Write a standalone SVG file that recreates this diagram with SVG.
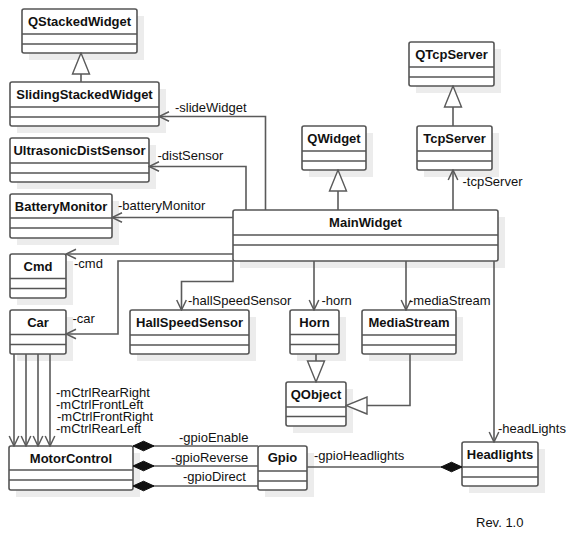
<svg xmlns="http://www.w3.org/2000/svg" width="574" height="548" viewBox="0 0 574 548">
  <style>
    .shadow { fill: #ececec; stroke: none; }
    .box { fill: #ffffff; stroke: #555555; stroke-width: 1.6; }
    .sep { stroke: #555555; stroke-width: 1.6; }
    .title { font-family: "Liberation Sans", Arial, sans-serif; font-size: 13px; font-weight: bold; fill: #111111; text-anchor: middle; }
    .lbl { font-family: "Liberation Sans", Arial, sans-serif; font-size: 13px; fill: #111111; }
    .conn path { fill: none; stroke: #5a5a5a; stroke-width: 1.6; }
    .assoc { marker-end: url(#open); }
    .gen { marker-end: url(#tri); }
    .comp { marker-start: url(#diamond); }
  </style>
  <defs>
    <marker id="open" viewBox="-12 -6 13 12" markerWidth="13" markerHeight="12" refX="0" refY="0" orient="auto" markerUnits="userSpaceOnUse">
      <path d="M-10,-4.8 L0,0 L-10,4.8" fill="none" stroke="#5a5a5a" stroke-width="1.5"/>
    </marker>
    <marker id="tri" viewBox="-22 -10 23 20" markerWidth="23" markerHeight="20" refX="0" refY="0" orient="auto" markerUnits="userSpaceOnUse">
      <path d="M-21,-8.5 L0,0 L-21,8.5 Z" fill="#ffffff" stroke="#5a5a5a" stroke-width="1.4"/>
    </marker>
    <marker id="diamond" viewBox="-1 -6 23 12" markerWidth="23" markerHeight="12" refX="0" refY="0" orient="auto" markerUnits="userSpaceOnUse">
      <path d="M0,0 L10.5,-4.8 L21,0 L10.5,4.8 Z" fill="#111111" stroke="#111111" stroke-width="1"/>
    </marker>
  </defs>

  <rect width="574" height="548" fill="#ffffff"/>

  <!-- classes -->
  <g id="QStackedWidget">
    <rect class="shadow" x="29" y="16" width="115" height="44"/>
    <rect class="box" x="22" y="9" width="115" height="44" rx="2"/>
    <line class="sep" x1="22" y1="34" x2="137" y2="34"/>
    <line class="sep" x1="22" y1="44" x2="137" y2="44"/>
    <text class="title" x="79.5" y="26">QStackedWidget</text>
  </g>
  <g id="SlidingStackedWidget">
    <rect class="shadow" x="17" y="89" width="149" height="44"/>
    <rect class="box" x="10" y="82" width="149" height="44" rx="2"/>
    <line class="sep" x1="10" y1="107" x2="159" y2="107"/>
    <line class="sep" x1="10" y1="117" x2="159" y2="117"/>
    <text class="title" x="84.5" y="98.5">SlidingStackedWidget</text>
  </g>
  <g id="UltrasonicDistSensor">
    <rect class="shadow" x="17" y="145" width="139" height="44"/>
    <rect class="box" x="10" y="138" width="139" height="44" rx="2"/>
    <line class="sep" x1="10" y1="163" x2="149" y2="163"/>
    <line class="sep" x1="10" y1="173" x2="149" y2="173"/>
    <text class="title" x="79.5" y="154.5">UltrasonicDistSensor</text>
  </g>
  <g id="BatteryMonitor">
    <rect class="shadow" x="17" y="201" width="102" height="44"/>
    <rect class="box" x="10" y="194" width="102" height="44" rx="2"/>
    <line class="sep" x1="10" y1="218" x2="112" y2="218"/>
    <line class="sep" x1="10" y1="228" x2="112" y2="228"/>
    <text class="title" x="61" y="210.5">BatteryMonitor</text>
  </g>
  <g id="QWidget">
    <rect class="shadow" x="309" y="133" width="64" height="44"/>
    <rect class="box" x="302" y="126" width="64" height="44" rx="2"/>
    <line class="sep" x1="302" y1="151" x2="366" y2="151"/>
    <line class="sep" x1="302" y1="161" x2="366" y2="161"/>
    <text class="title" x="334" y="142.5">QWidget</text>
  </g>
  <g id="QTcpServer">
    <rect class="shadow" x="416" y="49" width="85" height="44"/>
    <rect class="box" x="409" y="42" width="85" height="44" rx="2"/>
    <line class="sep" x1="409" y1="67" x2="494" y2="67"/>
    <line class="sep" x1="409" y1="77" x2="494" y2="77"/>
    <text class="title" x="451.5" y="58.5">QTcpServer</text>
  </g>
  <g id="TcpServer">
    <rect class="shadow" x="424" y="133" width="75" height="44"/>
    <rect class="box" x="417" y="126" width="75" height="44" rx="2"/>
    <line class="sep" x1="417" y1="151" x2="492" y2="151"/>
    <line class="sep" x1="417" y1="161" x2="492" y2="161"/>
    <text class="title" x="454.5" y="142.5">TcpServer</text>
  </g>
  <g id="MainWidget">
    <rect class="shadow" x="240" y="217" width="265" height="51"/>
    <rect class="box" x="233" y="210" width="265" height="51" rx="2"/>
    <line class="sep" x1="233" y1="235" x2="498" y2="235"/>
    <line class="sep" x1="233" y1="245" x2="498" y2="245"/>
    <text class="title" x="365.5" y="227">MainWidget</text>
  </g>
  <g id="Cmd">
    <rect class="shadow" x="17" y="261" width="56" height="44"/>
    <rect class="box" x="10" y="254" width="56" height="44" rx="2"/>
    <line class="sep" x1="10" y1="278.5" x2="66" y2="278.5"/>
    <line class="sep" x1="10" y1="288.5" x2="66" y2="288.5"/>
    <text class="title" x="38" y="271">Cmd</text>
  </g>
  <g id="Car">
    <rect class="shadow" x="17" y="317" width="56" height="44"/>
    <rect class="box" x="10" y="310" width="56" height="44" rx="2"/>
    <line class="sep" x1="10" y1="334.5" x2="66" y2="334.5"/>
    <line class="sep" x1="10" y1="344.5" x2="66" y2="344.5"/>
    <text class="title" x="38" y="327">Car</text>
  </g>
  <g id="HallSpeedSensor">
    <rect class="shadow" x="137" y="317" width="119" height="44"/>
    <rect class="box" x="130" y="310" width="119" height="44" rx="2"/>
    <line class="sep" x1="130" y1="335" x2="249" y2="335"/>
    <line class="sep" x1="130" y1="345" x2="249" y2="345"/>
    <text class="title" x="189.5" y="327">HallSpeedSensor</text>
  </g>
  <g id="Horn">
    <rect class="shadow" x="297" y="317" width="49" height="44"/>
    <rect class="box" x="290" y="310" width="49" height="44" rx="2"/>
    <line class="sep" x1="290" y1="334.5" x2="339" y2="334.5"/>
    <line class="sep" x1="290" y1="344.5" x2="339" y2="344.5"/>
    <text class="title" x="314.5" y="327">Horn</text>
  </g>
  <g id="MediaStream">
    <rect class="shadow" x="369" y="317" width="94" height="44"/>
    <rect class="box" x="362" y="310" width="94" height="44" rx="2"/>
    <line class="sep" x1="362" y1="335" x2="456" y2="335"/>
    <line class="sep" x1="362" y1="345" x2="456" y2="345"/>
    <text class="title" x="409" y="327">MediaStream</text>
  </g>
  <g id="QObject">
    <rect class="shadow" x="293" y="389" width="60" height="44"/>
    <rect class="box" x="286" y="382" width="60" height="44" rx="2"/>
    <line class="sep" x1="286" y1="407" x2="346" y2="407"/>
    <line class="sep" x1="286" y1="416.5" x2="346" y2="416.5"/>
    <text class="title" x="316" y="399">QObject</text>
  </g>
  <g id="MotorControl">
    <rect class="shadow" x="16" y="453" width="124" height="44"/>
    <rect class="box" x="9" y="446" width="124" height="44" rx="2"/>
    <line class="sep" x1="9" y1="470" x2="133" y2="470"/>
    <line class="sep" x1="9" y1="480" x2="133" y2="480"/>
    <text class="title" x="71" y="463">MotorControl</text>
  </g>
  <g id="Gpio">
    <rect class="shadow" x="265" y="453" width="49" height="44"/>
    <rect class="box" x="258" y="446" width="49" height="44" rx="2"/>
    <line class="sep" x1="258" y1="471" x2="307" y2="471"/>
    <line class="sep" x1="258" y1="481" x2="307" y2="481"/>
    <text class="title" x="282.5" y="462">Gpio</text>
  </g>
  <g id="Headlights">
    <rect class="shadow" x="469" y="449" width="76" height="44"/>
    <rect class="box" x="462" y="442" width="76" height="44" rx="2"/>
    <line class="sep" x1="462" y1="467" x2="538" y2="467"/>
    <line class="sep" x1="462" y1="477" x2="538" y2="477"/>
    <text class="title" x="500" y="458.5">Headlights</text>
  </g>

  <!-- connectors -->
  <g id="connectors" class="conn">
    <!-- generalisations -->
    <path class="gen" d="M81,82 V53"/>
    <path class="gen" d="M338,210 V170"/>
    <path class="gen" d="M453,126 V86"/>
    <path class="gen" d="M316,354 V382"/>
    <path class="gen" d="M410,354 V405.5 H346"/>
    <!-- associations from MainWidget -->
    <path class="assoc" d="M265.5,210 V116.5 H159"/>
    <path class="assoc" d="M246,210 V166.5 H149"/>
    <path class="assoc" d="M233,217.5 H112"/>
    <path class="assoc" d="M453,210 V170"/>
    <path class="assoc" d="M233,254 H66"/>
    <path class="assoc" d="M233,261 H118 V334 H66"/>
    <path class="assoc" d="M233,261 V281.5 H181.5 V310"/>
    <path class="assoc" d="M314,261 V310"/>
    <path class="assoc" d="M406,261 V310"/>
    <path class="assoc" d="M494,261 V442"/>
    <!-- Car to MotorControl -->
    <path class="assoc" d="M14,354 V446"/>
    <path class="assoc" d="M26,354 V446"/>
    <path class="assoc" d="M38,354 V446"/>
    <path class="assoc" d="M50,354 V446"/>
    <!-- compositions with Gpio -->
    <path class="comp" d="M133,446 H258"/>
    <path class="comp" d="M133,466 H258"/>
    <path class="comp" d="M133,486 H258"/>
    <path class="comp" d="M462,467 H307"/>
  </g>

  <!-- role labels -->
  <g id="labels">
    <text class="lbl" x="175" y="112">-slideWidget</text>
    <text class="lbl" x="157.5" y="160">-distSensor</text>
    <text class="lbl" x="118" y="210">-batteryMonitor</text>
    <text class="lbl" x="462.5" y="185.5">-tcpServer</text>
    <text class="lbl" x="74" y="268">-cmd</text>
    <text class="lbl" x="72.5" y="323">-car</text>
    <text class="lbl" x="188" y="305">-hallSpeedSensor</text>
    <text class="lbl" x="321.5" y="305">-horn</text>
    <text class="lbl" x="409" y="305">-mediaStream</text>
    <text class="lbl" x="498" y="432.5">-headLights</text>
    <text class="lbl" x="56" y="396.5">-mCtrlRearRight</text>
    <text class="lbl" x="56" y="408.5">-mCtrlFrontLeft</text>
    <text class="lbl" x="57" y="420.5">-mCtrlFrontRight</text>
    <text class="lbl" x="56" y="432.5">-mCtrlRearLeft</text>
    <text class="lbl" x="179" y="441.5">-gpioEnable</text>
    <text class="lbl" x="171" y="461.5">-gpioReverse</text>
    <text class="lbl" x="183" y="480.5">-gpioDirect</text>
    <text class="lbl" x="314" y="459.5">-gpioHeadlights</text>
    <text class="lbl" x="476" y="527" font-size="12.5">Rev. 1.0</text>
  </g>
</svg>
